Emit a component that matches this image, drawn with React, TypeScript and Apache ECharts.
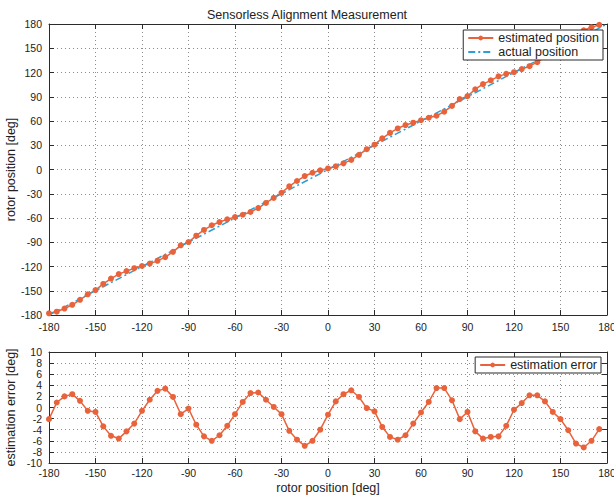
import React, { useEffect, useRef } from "react";
import * as echarts from "echarts";

const titleText = "Sensorless Alignment Measurement";
const xName = "rotor position [deg]";
const yNameTop = "rotor position [deg]";
const yNameBottom = "estimation error [deg]";

const angles = [
  -180, -175, -170, -165, -160, -155, -150, -145, -140, -135, -130, -125,
  -120, -115, -110, -105, -100, -95, -90, -85, -80, -75, -70, -65,
  -60, -55, -50, -45, -40, -35, -30, -25, -20, -15, -10, -5,
  0, 5, 10, 15, 20, 25, 30, 35, 40, 45, 50, 55,
  60, 65, 70, 75, 80, 85, 90, 95, 100, 105, 110, 115,
  120, 125, 130, 135, 140, 145, 150, 155, 160, 165, 170, 175,
];

const estimatedPosition = [
  -177.9, -175.9, -172.0, -167.4, -161.2, -154.4, -149.2, -141.6, -134.9, -129.4, -125.7, -122.1,
  -119.4, -116.4, -113.0, -108.4, -101.9, -93.8, -89.8, -81.9, -74.8, -69.0, -65.0, -61.7,
  -58.8, -56.0, -52.6, -47.7, -41.4, -35.1, -28.8, -20.8, -14.2, -8.1, -4.0, -1.0,
  1.3, 3.9, 7.6, 11.9, 18.1, 25.1, 30.7, 38.5, 45.3, 50.8, 55.0, 57.9,
  60.9, 64.0, 66.5, 71.5, 78.7, 87.1, 90.8, 99.3, 105.6, 110.3, 115.2, 118.3,
  120.4, 124.2, 127.8, 132.8, 138.9, 145.8, 152.1, 159.1, 166.5, 172.2, 176.0, 178.9,
];

const actualAngles = [-180, 180];
const actualPosition = [-180, 180];

const estimationError = [
  -2.1, 0.9, 2.0, 2.4, 1.2, -0.6, -0.8, -3.4, -5.1, -5.6, -4.3, -2.9,
  -0.6, 1.4, 3.0, 3.4, 1.9, -1.2, -0.2, -3.1, -5.2, -6.0, -5.0, -3.3,
  -1.2, 1.0, 2.6, 2.7, 1.4, 0.1, -1.2, -4.2, -5.8, -6.9, -6.0, -4.0,
  -1.3, 1.1, 2.4, 3.1, 1.9, -0.1, -0.7, -3.5, -5.3, -5.8, -5.0, -2.9,
  -0.9, 1.0, 3.5, 3.5, 1.3, -2.1, -0.8, -4.3, -5.6, -5.3, -5.2, -3.3,
  -0.4, 0.8, 2.2, 2.2, 1.1, -0.8, -2.1, -4.1, -6.5, -7.2, -6.0, -3.9,
];

const FONT = '"Liberation Sans", Arial, Helvetica, sans-serif';
const ORANGE = "#e8633b";
const BLUE = "#2aa0d6";
const AXIS = "#2b2b2b";
const GRIDC = "#8c8c8c";
const LABEL = { color: "#222", fontSize: 10.5, fontFamily: FONT };

function mainAxis(opts: any) {
  return {
    type: "value",
    axisLine: { show: true, onZero: false, lineStyle: { color: AXIS, width: 1 } },
    axisTick: { show: true, inside: true, length: 5, lineStyle: { color: AXIS } },
    axisLabel: { ...LABEL },
    splitLine: { show: true, lineStyle: { color: GRIDC, type: [1, 3], width: 1 } },
    ...opts,
  };
}

function mirrorAxis(opts: any) {
  return {
    type: "value",
    axisLine: { show: true, onZero: false, lineStyle: { color: AXIS, width: 1 } },
    axisTick: { show: true, inside: true, length: 5, lineStyle: { color: AXIS } },
    axisLabel: { show: false },
    splitLine: { show: false },
    ...opts,
  };
}

export default function App() {
  const ref = useRef<HTMLDivElement>(null);
  useEffect(() => {
    if (!ref.current) return;
    const chart = echarts.init(ref.current, null, { renderer: "svg" });
    const estData = angles.map((a, i) => [a, estimatedPosition[i]]);
    const actData = actualAngles.map((a, i) => [a, actualPosition[i]]);
    const errData = angles.map((a, i) => [a, estimationError[i]]);
    const legendText = { fontSize: 12.5, color: "#222", fontFamily: FONT, lineHeight: 14 };
    chart.setOption({
      animation: false,
      backgroundColor: "#fff",
      title: {
        text: titleText,
        left: "center",
        top: 3,
        textStyle: { fontSize: 12.5, fontWeight: "normal", color: "#222", fontFamily: FONT },
      },
      grid: [
        { left: 49, top: 24, width: 558, height: 291, show: false, containLabel: false, outerBoundsMode: "none" },
        { left: 49, top: 352, width: 558, height: 111, show: false, containLabel: false, outerBoundsMode: "none" },
      ],
      legend: [
        {
          data: [
            { name: "estimated position" },
            { name: "actual position", itemStyle: { opacity: 0, borderWidth: 0 } },
          ],
          orient: "vertical",
          right: 11,
          top: 30,
          padding: [1, 4, 1, 4],
          itemGap: 0,
          itemWidth: 25,
          itemHeight: 6,
          borderColor: AXIS,
          borderWidth: 1,
          borderRadius: 0,
          backgroundColor: "#fff",
          textStyle: legendText,
        },
        {
          data: ["estimation error"],
          orient: "vertical",
          right: 13,
          top: 357,
          padding: [1, 4, 1, 4],
          itemWidth: 25,
          itemHeight: 6,
          borderColor: AXIS,
          borderWidth: 1,
          borderRadius: 0,
          backgroundColor: "#fff",
          textStyle: legendText,
        },
      ],
      xAxis: [
        mainAxis({ gridIndex: 0, min: -180, max: 180, interval: 30, position: "bottom",
          axisLabel: { ...LABEL, margin: 6 } }),
        mirrorAxis({ gridIndex: 0, min: -180, max: 180, interval: 30, position: "top" }),
        mainAxis({ gridIndex: 1, min: -180, max: 180, interval: 30, position: "bottom",
          name: xName, nameLocation: "middle", nameGap: 18,
          nameTextStyle: { fontSize: 12.5, color: "#222", fontFamily: FONT },
          axisLabel: { ...LABEL, margin: 4 } }),
        mirrorAxis({ gridIndex: 1, min: -180, max: 180, interval: 30, position: "top" }),
      ],
      yAxis: [
        mainAxis({ gridIndex: 0, min: -180, max: 180, interval: 30, position: "left",
          name: yNameTop, nameLocation: "middle", nameGap: 32, nameMoveOverlap: false,
          nameTextStyle: { fontSize: 12.5, color: "#222", fontFamily: FONT },
          axisLabel: { ...LABEL, margin: 7 } }),
        mirrorAxis({ gridIndex: 0, min: -180, max: 180, interval: 30, position: "right" }),
        mainAxis({ gridIndex: 1, min: -10, max: 10, interval: 2, position: "left",
          name: yNameBottom, nameLocation: "middle", nameGap: 32, nameMoveOverlap: false,
          nameTextStyle: { fontSize: 12.5, color: "#222", fontFamily: FONT },
          axisLabel: { ...LABEL, margin: 7 } }),
        mirrorAxis({ gridIndex: 1, min: -10, max: 10, interval: 2, position: "right" }),
      ],
      series: [
        {
          name: "estimated position",
          type: "line",
          xAxisIndex: 0,
          yAxisIndex: 0,
          data: estData,
          symbol: "circle",
          symbolSize: 6,
          lineStyle: { color: ORANGE, width: 1.5 },
          itemStyle: { color: ORANGE },
        },
        {
          name: "actual position",
          type: "line",
          xAxisIndex: 0,
          yAxisIndex: 0,
          data: actData,
          symbol: "none",
          lineStyle: { color: BLUE, width: 1.5, type: [7, 3, 2, 3] },
          itemStyle: { color: BLUE },
        },
        {
          name: "estimation error",
          type: "line",
          xAxisIndex: 2,
          yAxisIndex: 2,
          data: errData,
          symbol: "circle",
          symbolSize: 6,
          lineStyle: { color: ORANGE, width: 1.5 },
          itemStyle: { color: ORANGE },
        },
      ],
    });
    return () => chart.dispose();
  }, []);
  return (
    <div
      ref={ref}
      style={{ position: "fixed", left: 0, top: 0, width: 614, height: 496, background: "#fff" }}
    />
  );
}
